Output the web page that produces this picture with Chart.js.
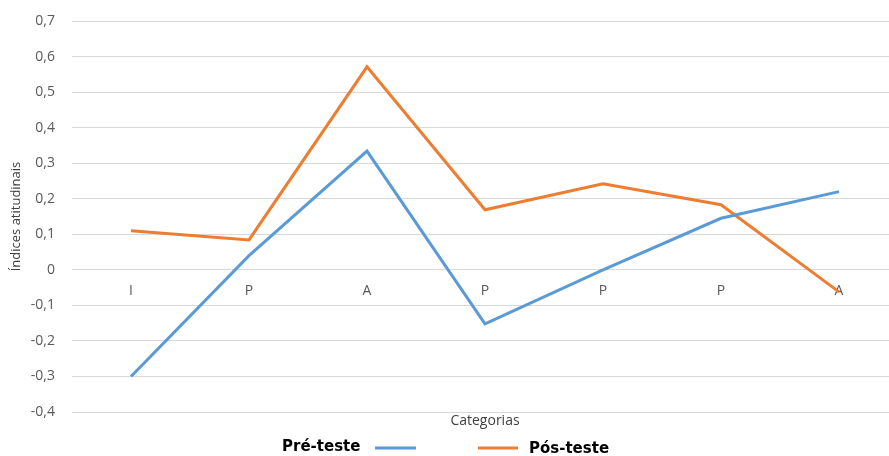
<!DOCTYPE html>
<html>
<head>
<meta charset="utf-8">
<script src="https://cdn.jsdelivr.net/npm/chart.js@4"></script>
<style>
	html, body { margin: 0; padding: 0; background: #fff; overflow: hidden; }
	#chart-div { width: 898px; height: 456px; }
</style>
</head>
<body>
<div id="chart-div"><canvas id="poll-chart"></canvas></div>
<script>
var categorias = ["I", "P", "A", "P", "P", "P", "A"];
var preTeste = [-0.30, 0.04, 0.334, -0.152, 0.0, 0.145, 0.22];
var posTeste = [0.11, 0.084, 0.571, 0.169, 0.242, 0.183, -0.062];
var seriesNames = ["Pré-teste", "Pós-teste"];
var seriesColours = ["#5b9bd5", "#ed7d31"];

function formatTick(value) {
	var v = Math.round(value * 10) / 10;
	if (v === 0) return "0";
	return v.toFixed(1).replace(".", ",");
}

// legend drawn by hand: first entry text then line, second entry line then text
var bottomLegend = {
	id: "bottomLegend",
	afterDraw: function(chart) {
		var ctx = chart.ctx;
		var y = 448;
		ctx.save();
		ctx.font = "bold 15px 'DejaVu Sans'";
		ctx.fillStyle = "#000";
		ctx.textBaseline = "middle";
		ctx.textAlign = "left";
		ctx.fillText(chart.data.datasets[0].label, 282, y - 1);
		ctx.lineWidth = 3;
		ctx.strokeStyle = chart.data.datasets[0].borderColor;
		ctx.beginPath();
		ctx.moveTo(375, y);
		ctx.lineTo(416, y);
		ctx.stroke();
		ctx.strokeStyle = chart.data.datasets[1].borderColor;
		ctx.beginPath();
		ctx.moveTo(478, y);
		ctx.lineTo(518, y);
		ctx.stroke();
		ctx.fillText(chart.data.datasets[1].label, 529, y + 1);
		ctx.restore();
	}
};

var canvas = document.getElementById("poll-chart");
var pollChart = new Chart(canvas, {
	type: "line",
	data: {
		labels: categorias,
		datasets: [
		{
			label: seriesNames[0],
			data: preTeste,
			borderColor: seriesColours[0],
			backgroundColor: seriesColours[0],
			borderWidth: 3,
			pointRadius: 0,
			tension: 0,
			xAxisID: "x"
		},
		{
			label: seriesNames[1],
			data: posTeste,
			borderColor: seriesColours[1],
			backgroundColor: seriesColours[1],
			borderWidth: 3,
			pointRadius: 0,
			tension: 0,
			xAxisID: "x"
		}]
	},
	options: {
		responsive: true,
		maintainAspectRatio: false,
		animation: false,
		layout: { padding: { top: 0, left: 0, right: 0, bottom: 0 } },
		plugins: {
			legend: { display: false },
			tooltip: { enabled: false }
		},
		scales: {
			x: {
				type: "category",
				position: { y: 0 },
				offset: true,
				grid: { display: false },
				border: { display: false },
				ticks: {
					color: "#595959",
					padding: 5,
					font: { family: "'Open Sans'", size: 14 }
				}
			},
			x2: {
				type: "category",
				position: "bottom",
				labels: categorias,
				grid: { display: false },
				border: { display: false },
				ticks: { display: false },
				title: {
					display: true,
					text: "Categorias",
					color: "#404040",
					font: { family: "'Open Sans'", size: 14 },
					padding: { top: 0, bottom: 27 }
				},
				afterFit: function(scale) { scale.height = 44; }
			},
			y: {
				min: -0.4,
				max: 0.7,
				ticks: {
					stepSize: 0.1,
					color: "#595959",
					padding: 17,
					font: { family: "'Open Sans'", size: 14 },
					callback: function(value) { return formatTick(value); }
				},
				grid: { color: "#d9d9d9", lineWidth: 1, drawTicks: false },
				border: { display: false },
				title: {
					display: true,
					text: "Índices atitudinais",
					color: "#404040",
					font: { family: "'Open Sans'", size: 13 },
					padding: { top: 8, bottom: 0 }
				},
				afterFit: function(scale) {
					scale.width = 72;
					scale.paddingTop = 21;
				}
			}
		}
	},
	plugins: [bottomLegend]
});
</script>
</body>
</html>
